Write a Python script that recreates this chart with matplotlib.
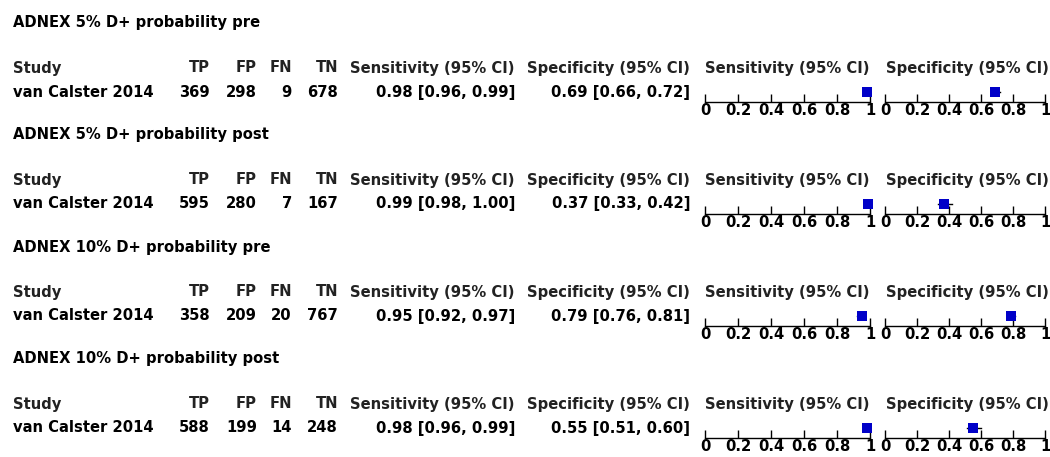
import matplotlib
matplotlib.use("Agg")
import matplotlib.pyplot as plt

# Diagnostic accuracy of ADNEX at two risk thresholds, pre/post
panel_titles = [
    "ADNEX 5% D+ probability pre",
    "ADNEX 5% D+ probability post",
    "ADNEX 10% D+ probability pre",
    "ADNEX 10% D+ probability post",
]
study = "van Calster 2014"
tp = [369, 595, 358, 588]
fp = [298, 280, 209, 199]
fn = [9, 7, 20, 14]
tn = [678, 167, 767, 248]
sens = [0.98, 0.99, 0.95, 0.98]
sens_lo = [0.96, 0.98, 0.92, 0.96]
sens_hi = [0.99, 1.00, 0.97, 0.99]
spec = [0.69, 0.37, 0.79, 0.55]
spec_lo = [0.66, 0.33, 0.76, 0.51]
spec_hi = [0.72, 0.42, 0.81, 0.60]
axis_ticks = [0, 0.2, 0.4, 0.6, 0.8, 1]
axis_ticklabels = ["0", "0.2", "0.4", "0.6", "0.8", "1"]

W, H = 1050, 457
fig = plt.figure(figsize=(W / 100, H / 100), dpi=100)
fig.patch.set_facecolor("white")

FONT = "DejaVu Sans"
FS = 10.6
MARK = "#0000c8"


def fx(px):
    return px / W


def fy(py):
    return 1 - py / H


def put(x, y, s, ha="left", color="black"):
    fig.text(fx(x), fy(y), s, ha=ha, va="center", fontsize=FS,
             fontweight="bold", family=FONT, color=color)


PANEL_STEP = 112
for i in range(4):
    y0 = i * PANEL_STEP
    title_y = 23 + y0
    head_y = 68 + y0
    row_y = 92 + y0

    put(13, title_y, panel_titles[i])

    # column headers
    hc = "#222222"
    put(13, head_y, "Study", color=hc)
    put(210, head_y, "TP", ha="right", color=hc)
    put(257, head_y, "FP", ha="right", color=hc)
    put(292, head_y, "FN", ha="right", color=hc)
    put(338, head_y, "TN", ha="right", color=hc)
    put(515, head_y, "Sensitivity (95% CI)", ha="right", color=hc)
    put(690, head_y, "Specificity (95% CI)", ha="right", color=hc)
    put(705, head_y, "Sensitivity (95% CI)", color=hc)
    put(886, head_y, "Specificity (95% CI)", color=hc)

    # study row
    put(13, row_y, study)
    put(210, row_y, str(tp[i]), ha="right")
    put(257, row_y, str(fp[i]), ha="right")
    put(292, row_y, str(fn[i]), ha="right")
    put(338, row_y, str(tn[i]), ha="right")
    put(515, row_y, f"{sens[i]:.2f} [{sens_lo[i]:.2f}, {sens_hi[i]:.2f}]", ha="right")
    put(690, row_y, f"{spec[i]:.2f} [{spec_lo[i]:.2f}, {spec_hi[i]:.2f}]", ha="right")

    # forest plots
    line_y = 102 + y0
    for (x_left, x_right, est, lo, hi) in [
        (705, 870, sens[i], sens_lo[i], sens_hi[i]),
        (885, 1045, spec[i], spec_lo[i], spec_hi[i]),
    ]:
        top = line_y - 20
        ax = fig.add_axes([fx(x_left), fy(line_y), fx(x_right - x_left), (line_y - top) / H])
        ax.set_xlim(0, 1)
        ax.set_ylim(0, 1)
        ax.patch.set_alpha(0)
        for side in ("top", "left", "right"):
            ax.spines[side].set_visible(False)
        ax.spines["bottom"].set_linewidth(1.0)
        ax.spines["bottom"].set_color("black")
        ax.set_yticks([])
        ax.set_xticks(axis_ticks)
        ax.set_xticklabels(axis_ticklabels, fontsize=FS, fontweight="bold", family=FONT)
        ax.tick_params(axis="x", direction="in", length=6, width=1.0,
                       pad=1, colors="black")
        ax.plot([lo, hi], [0.5, 0.5], color="black", lw=1.0, clip_on=False)
        ax.plot([est], [0.5], marker="s", color=MARK, markersize=7.2,
                markeredgewidth=0, linestyle="none", clip_on=False)

fig.savefig("out.png", dpi=100, facecolor="white")
